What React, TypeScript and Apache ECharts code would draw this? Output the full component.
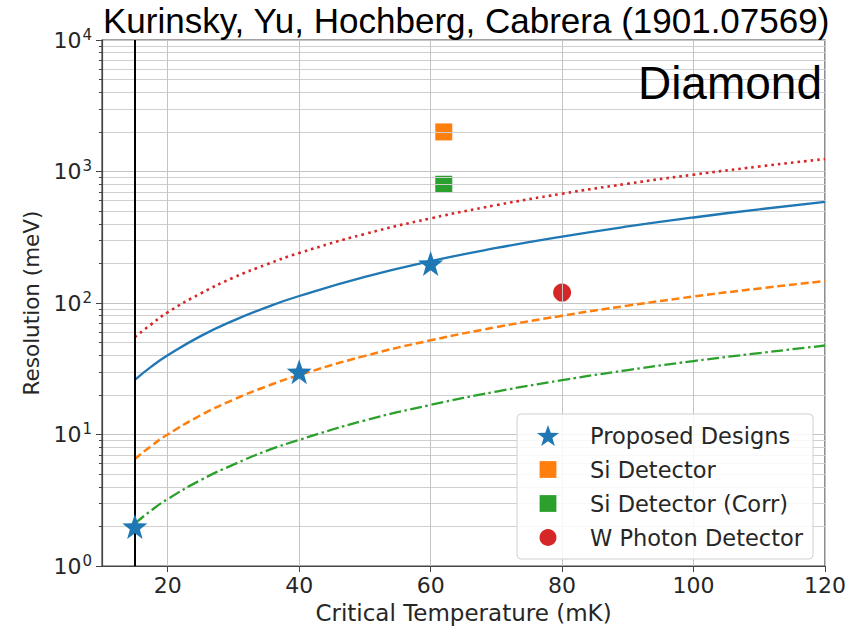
import React, { useEffect, useRef } from "react";
import * as echarts from "echarts";

const X_VALUES = [15, 17.5, 20, 25, 30, 35, 40, 50, 60, 70, 80, 90, 100, 110, 120];
const BLUE_SOLID = [26, 32.8, 40, 56, 73.5, 92.6, 113, 158, 208, 262, 320, 382, 447, 516, 588];
const RED_DOTTED = [55, 69, 85, 118, 156, 196, 240, 335, 440, 555, 678, 808, 946, 1092, 1244];
const ORANGE_DASHED = [6.5, 8.2, 10, 14, 18.4, 23.2, 28.3, 39.6, 52, 65.5, 80, 95.5, 112, 129, 147];
const GREEN_DASHDOT = [2.1, 2.65, 3.23, 4.5, 5.9, 7.5, 9.1, 12.8, 16.8, 21.2, 25.9, 30.9, 36.2, 41.6, 47.5];

const PROPOSED = [[15, 2], [40, 30], [60, 200]];
const SI_DETECTOR = [[62, 2000]];
const SI_DETECTOR_CORR = [[62, 800]];
const W_PHOTON = [[80, 120]];

const VLINE_X = 15;
const X_TICKS = [20, 40, 60, 80, 100, 120];
const Y_MAJOR = [1, 10, 100, 1000, 10000];
const Y_MINOR = [
  2, 3, 4, 5, 6, 7, 8, 9,
  20, 30, 40, 50, 60, 70, 80, 90,
  200, 300, 400, 500, 600, 700, 800, 900,
  2000, 3000, 4000, 5000, 6000, 7000, 8000, 9000,
];

const LEGEND_NAMES = ["Proposed Designs", "Si Detector", "Si Detector (Corr)", "W Photon Detector"];

const STAR =
  "path://M0,-10 L2.35,-3.24 L9.51,-3.09 L3.8,1.24 L5.88,8.09 L0,4 L-5.88,8.09 L-3.8,1.24 L-9.51,-3.09 L-2.35,-3.24 Z";
const LEGEND_SQUARE = "path://M0,0 M2.6,2.6 L19.4,2.6 L19.4,19.4 L2.6,19.4 Z M22,22";
const LEGEND_CIRCLE = "path://M0,0 M11,2.5 A8.5,8.5 0 1 1 10.99,2.5 Z M22,22";

const C_BLUE = "#1f77b4";
const C_ORANGE = "#ff7f0e";
const C_GREEN = "#2ca02c";
const C_RED = "#d62728";
const FONT = "DejaVu Sans";
const TXT = "#262626";

function pairs(xs: number[], ys: number[]) {
  return xs.map((x, i) => [x, ys[i]]);
}

export default function App() {
  const ref = useRef<HTMLDivElement>(null);
  useEffect(() => {
    if (!ref.current) return;
    const chart = echarts.init(ref.current, null, { renderer: "svg" });
    const lineBase = { type: "line", smooth: true, showSymbol: false, symbol: "none", z: 4, silent: true };
    chart.setOption({
      animation: false,
      backgroundColor: "#fff",
      title: [
        {
          text: "Kurinsky, Yu, Hochberg, Cabrera (1901.07569)",
          left: 103,
          top: 3,
          padding: 0,
          textStyle: { fontFamily: "Liberation Sans", fontSize: 35, fontWeight: "normal", color: "#000" },
        },
        {
          text: "Diamond",
          right: 41,
          top: 60,
          padding: 0,
          textStyle: { fontFamily: "Liberation Sans", fontSize: 46, fontWeight: "normal", color: "#000" },
        },
      ],
      grid: {
        left: 102,
        right: 38,
        top: 40,
        bottom: 61,
        show: true,
        z: 0,
        backgroundColor: "#fff",
        borderColor: "#444",
        borderWidth: 1.2,
      },
      legend: {
        data: LEGEND_NAMES.map((n, i) => ({
          name: n,
          icon: i === 0 ? STAR : i === 3 ? LEGEND_CIRCLE : LEGEND_SQUARE,
        })),
        orient: "vertical",
        left: 517,
        top: 414,
        z: 10,
        itemWidth: 22,
        itemHeight: 22,
        itemGap: 11,
        padding: [10, 10, 10, 20],
        backgroundColor: "rgba(255,255,255,0.85)",
        borderColor: "#d0d0d0",
        borderWidth: 1,
        borderRadius: 4,
        textStyle: { fontFamily: FONT, fontSize: 22.5, lineHeight: 22, color: TXT, padding: [0, 0, 0, 26] },
      },
      xAxis: {
        type: "value",
        min: 10,
        max: 120,
        z: 2,
        name: "Critical Temperature (mK)",
        nameLocation: "middle",
        nameGap: 35,
        nameTextStyle: { fontFamily: FONT, fontSize: 23, color: TXT },
        axisLine: { show: true, lineStyle: { color: "#444", width: 1.2 } },
        axisTick: { show: true, customValues: X_TICKS, length: 6, lineStyle: { color: "#444" } },
        axisLabel: { customValues: X_TICKS, fontFamily: FONT, fontSize: 22, color: TXT, margin: 8 },
        splitLine: { show: true, lineStyle: { color: "#c4c4c4", width: 1 } },
      },
      yAxis: [
        {
          type: "log",
          logBase: 10,
          min: 1,
          max: 10000,
          z: 2,
          name: "Resolution (meV)",
          nameLocation: "middle",
          nameGap: 57,
          nameTextStyle: { fontFamily: FONT, fontSize: 21.5, color: TXT },
          axisLine: { show: true, lineStyle: { color: "#444", width: 1.2 } },
          axisTick: { show: true, customValues: Y_MAJOR, length: 6, lineStyle: { color: "#444" } },
          axisLabel: {
            customValues: Y_MAJOR,
            margin: 10,
            formatter: (v: number) => `{b|10}{s|${Math.round(Math.log10(v))}}`,
            rich: {
              b: { fontFamily: FONT, fontSize: 22, color: TXT, lineHeight: 26 },
              s: { fontFamily: FONT, fontSize: 15, color: TXT, verticalAlign: "top", lineHeight: 26, padding: [0, 0, 10, 1] },
            },
          },
          splitLine: { show: true, lineStyle: { color: "#c4c4c4", width: 1 } },
        },
        {
          type: "log",
          logBase: 10,
          min: 1,
          max: 10000,
          z: 2,
          position: "left",
          axisLine: { show: false },
          axisTick: { show: true, customValues: Y_MINOR, length: 3, lineStyle: { color: "#444" } },
          axisLabel: { show: false, customValues: Y_MINOR },
          splitLine: { show: true, lineStyle: { color: "#d0d0d0", width: 1 } },
        },
      ],
      series: [
        {
          ...lineBase,
          name: "red-curve",
          data: pairs(X_VALUES, RED_DOTTED),
          lineStyle: { color: C_RED, width: 2.6, type: [2.6, 4], cap: "butt" },
        },
        {
          ...lineBase,
          name: "blue-curve",
          data: pairs(X_VALUES, BLUE_SOLID),
          lineStyle: { color: C_BLUE, width: 2.3, type: "solid" },
          markLine: {
            silent: true,
            symbol: "none",
            label: { show: false },
            lineStyle: { color: "#000", width: 2, type: "solid" },
            data: [{ xAxis: VLINE_X }],
          },
        },
        {
          ...lineBase,
          name: "orange-curve",
          data: pairs(X_VALUES, ORANGE_DASHED),
          lineStyle: { color: C_ORANGE, width: 2.5, type: [8, 3.8] },
        },
        {
          ...lineBase,
          name: "green-curve",
          data: pairs(X_VALUES, GREEN_DASHDOT),
          lineStyle: { color: C_GREEN, width: 2.3, type: [12, 3.5, 2.5, 3.5] },
        },
        {
          type: "scatter",
          name: LEGEND_NAMES[0],
          data: PROPOSED,
          symbol: STAR,
          symbolSize: 25,
          itemStyle: { color: C_BLUE, opacity: 1 },
          z: 6,
        },
        {
          type: "scatter",
          name: LEGEND_NAMES[1],
          data: SI_DETECTOR,
          symbol: "rect",
          symbolSize: 17,
          itemStyle: { color: C_ORANGE, opacity: 1 },
          z: 1,
        },
        {
          type: "scatter",
          name: LEGEND_NAMES[2],
          data: SI_DETECTOR_CORR,
          symbol: "rect",
          symbolSize: 17,
          itemStyle: { color: C_GREEN, opacity: 1 },
          z: 1,
        },
        {
          type: "scatter",
          name: LEGEND_NAMES[3],
          data: W_PHOTON,
          symbol: "circle",
          symbolSize: 18,
          itemStyle: { color: C_RED, opacity: 1 },
          z: 1,
        },
      ],
    });
    return () => chart.dispose();
  }, []);
  return (
    <div
      ref={ref}
      style={{ position: "fixed", left: 0, top: 0, width: 863, height: 629, background: "#fff" }}
    />
  );
}
